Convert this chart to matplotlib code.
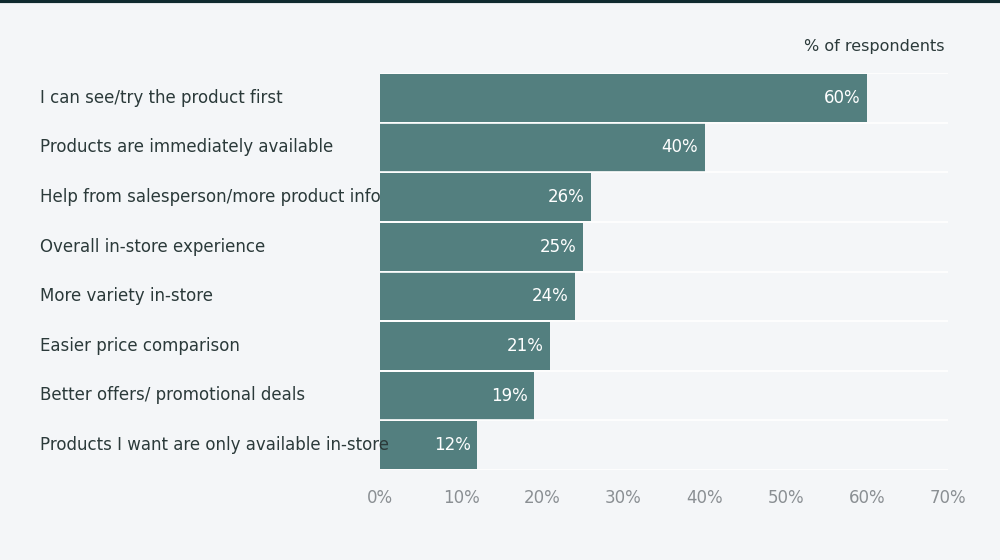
import matplotlib
matplotlib.use("Agg")
import matplotlib.pyplot as plt

categories = [
    "I can see/try the product first",
    "Products are immediately available",
    "Help from salesperson/more product info",
    "Overall in-store experience",
    "More variety in-store",
    "Easier price comparison",
    "Better offers/ promotional deals",
    "Products I want are only available in-store",
]
values = [60, 40, 26, 25, 24, 21, 19, 12]
xticks = [0, 10, 20, 30, 40, 50, 60, 70]

BG = "#f4f6f8"
BAR = "#537f7f"

fig = plt.figure(figsize=(10, 5.6), dpi=100, facecolor=BG)
ax = fig.add_axes([0.38, 0.1607, 0.568, 0.7089], facecolor=BG)

y = list(range(len(categories)))
ax.barh(y, values, height=0.97, color=BAR, zorder=2)
ax.set_ylim(len(categories) - 0.5, -0.5)
ax.set_xlim(0, 70)

# white separators between rows
for i in range(len(categories) + 1):
    ax.axhline(i - 0.5, color="white", lw=1.2, zorder=3)

for yi, v in zip(y, values):
    ax.text(v - 0.8, yi, f"{v}%", ha="right", va="center", color="white",
            fontsize=12, zorder=4)

for yi, c in zip(y, categories):
    fig.text(0.04, 1 - (73 + 49.6 * (yi + 0.5)) / 560, c, ha="left", va="center",
             fontsize=12, color="#2b3a3a")

ax.set_xticks(xticks)
ax.set_xticklabels([f"{t}%" for t in xticks], fontsize=12, color="#8a8f93")
ax.tick_params(axis="x", length=0, pad=14)
ax.set_yticks([])
for s in ax.spines.values():
    s.set_visible(False)

fig.text(0.945, 1 - 47 / 560, "% of respondents", ha="right", va="center",
         fontsize=11.5, color="#2b3a3a")
fig.add_artist(plt.Line2D([0, 1], [0.998, 0.998], color="#0f2a2e", lw=3,
                          transform=fig.transFigure))

fig.savefig("out.png", dpi=100, facecolor=BG)
